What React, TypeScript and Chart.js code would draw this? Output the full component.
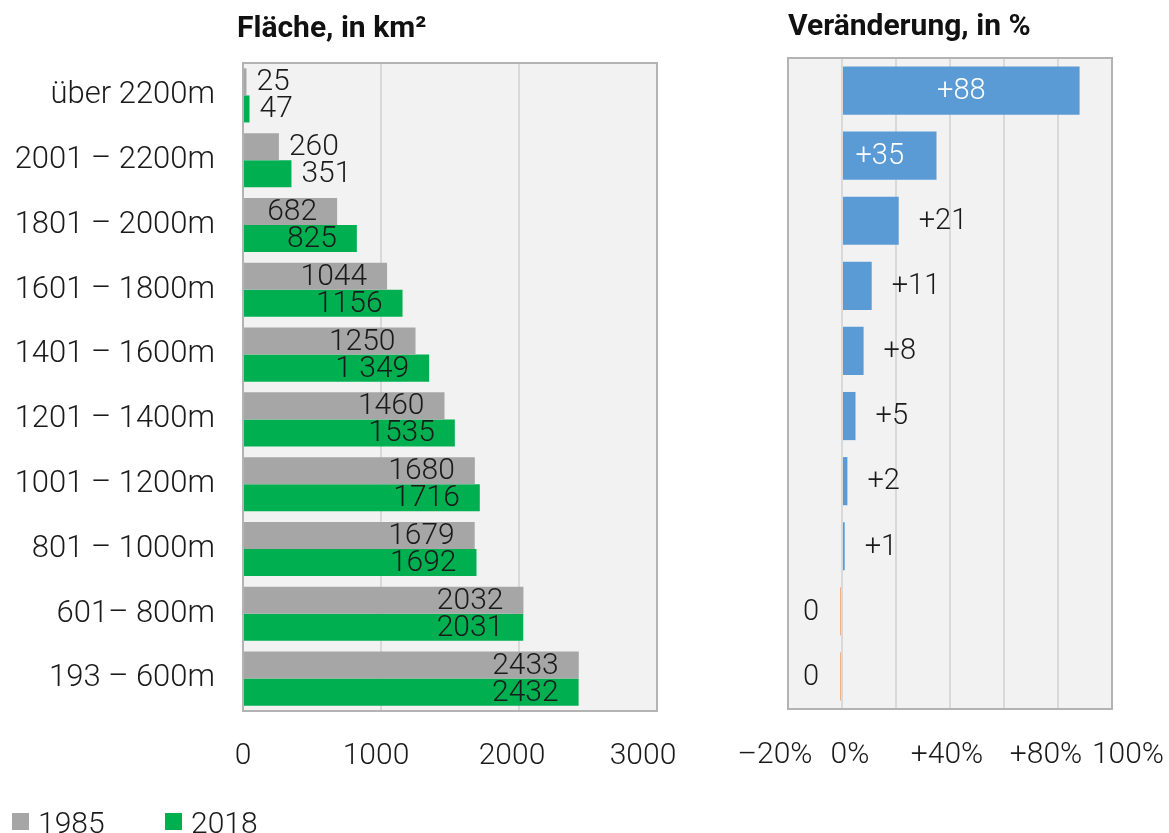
import React, { useEffect, useRef } from 'react';
import { Chart, registerables } from 'chart.js';

Chart.register(...registerables);

const FONT = 'Roboto, "Noto Sans", sans-serif';

// ---------- data ----------
const altitudeBands = [
  'über 2200m',
  '2001 – 2200m',
  '1801 – 2000m',
  '1601 – 1800m',
  '1401 – 1600m',
  '1201 – 1400m',
  '1001 – 1200m',
  '801 – 1000m',
  '601– 800m',
  '193 – 600m',
];
const area1985 = [25, 260, 682, 1044, 1250, 1460, 1680, 1679, 2032, 2433];
const area2018 = [47, 351, 825, 1156, 1349, 1535, 1716, 1692, 2031, 2432];
const area1985Labels = ['25', '260', '682', '1044', '1250', '1460', '1680', '1679', '2032', '2433'];
const area2018Labels = ['47', '351', '825', '1156', '1 349', '1535', '1716', '1692', '2031', '2432'];

const changePct = [88, 35, 21, 11, 8, 5, 2, 1, -0.05, -0.04];
const changeLabels = ['+88', '+35', '+21', '+11', '+8', '+5', '+2', '+1', '0', '0'];

const areaTickValues = [0, 1000, 2000, 3000];
const areaTickLabels = ['0', '1000', '2000', '3000'];
const changeTickValues = [-20, 0, 20, 40, 60, 80, 100];
const changeTickLabels = ['–20%', '0%', '', '+40%', '', '+80%', '100%'];

const seriesNames = ['1985', '2018'];
const COLOR_1985 = '#a6a6a6';
const COLOR_2018 = '#00b050';
const COLOR_POS = '#5b9bd5';
const COLOR_NEG = '#f4b183';

// label nudges (style only, px) mimicking the original's overlap-avoiding placement
const AREA_TICK_NUDGE = [0, -5, -7, -14];
const CHANGE_TICK_NUDGE = [-13, 8, 0, -3, 0, -12, 16];

// ---------- shared plugins ----------
const panelPlugin = (title: string, titleX: number, titleY: number) => ({
  id: 'panel',
  beforeDraw(chart: any) {
    const { ctx, chartArea: a } = chart;
    ctx.save();
    ctx.fillStyle = '#f2f2f2';
    ctx.fillRect(a.left, a.top, a.right - a.left, a.bottom - a.top);
    ctx.restore();
  },
  afterDatasetsDraw(chart: any) {
    const { ctx, chartArea: a } = chart;
    ctx.save();
    ctx.strokeStyle = '#b3b3b3';
    ctx.lineWidth = 2;
    ctx.strokeRect(a.left, a.top, a.right - a.left, a.bottom - a.top);
    ctx.fillStyle = '#111';
    ctx.font = `700 30px ${FONT}`;
    ctx.textAlign = 'left';
    ctx.textBaseline = 'alphabetic';
    ctx.fillText(title, titleX, titleY);
    ctx.restore();
  },
});

const tickLabelPlugin = (values: number[], labels: string[], nudge: number[], size: number, baseline: number) => ({
  id: 'tickLabels',
  afterDraw(chart: any) {
    const { ctx } = chart;
    const scale = chart.scales.x;
    ctx.save();
    ctx.font = `300 ${size}px ${FONT}`;
    ctx.fillStyle = '#1a1a1a';
    ctx.textAlign = 'center';
    ctx.textBaseline = 'alphabetic';
    values.forEach((v, i) => {
      if (!labels[i]) return;
      ctx.fillText(labels[i], scale.getPixelForValue(v) + nudge[i], baseline);
    });
    ctx.restore();
  },
});

const areaLabelsPlugin = {
  id: 'areaLabels',
  afterDraw(chart: any) {
    const ctx = chart.ctx;
    ctx.save();
    ctx.font = `300 30px ${FONT}`;
    ctx.fillStyle = '#1a1a1a';
    ctx.textBaseline = 'middle';
    chart.data.datasets.forEach((_ds: any, di: number) => {
      const meta = chart.getDatasetMeta(di);
      const texts = di === 0 ? area1985Labels : area2018Labels;
      meta.data.forEach((bar: any, i: number) => {
        const { x, y, base } = bar.getProps(['x', 'y', 'base'], true);
        const t = texts[i];
        const w = ctx.measureText(t).width;
        if (x - base > w + 30) {
          ctx.textAlign = 'right';
          ctx.fillText(t, x - 20, y + 1);
        } else {
          ctx.textAlign = 'left';
          ctx.fillText(t, x + 10, y + 1);
        }
      });
    });
    ctx.restore();
  },
};

const changeLabelsPlugin = {
  id: 'changeLabels',
  afterDraw(chart: any) {
    const ctx = chart.ctx;
    ctx.save();
    ctx.font = `300 29px ${FONT}`;
    ctx.textBaseline = 'middle';
    const meta = chart.getDatasetMeta(0);
    meta.data.forEach((bar: any, i: number) => {
      const { x, y, base } = bar.getProps(['x', 'y', 'base'], true);
      const v = changePct[i];
      const t = changeLabels[i];
      const w = ctx.measureText(t).width;
      if (v < 0) {
        ctx.fillStyle = '#1a1a1a';
        ctx.textAlign = 'right';
        ctx.fillText(t, base - 22, y + 1);
      } else if (x - base > w + 30) {
        ctx.fillStyle = '#ffffff';
        ctx.textAlign = 'center';
        ctx.fillText(t, (x + base) / 2 - (x - base < 150 ? 10 : 0), y + 1);
      } else {
        ctx.fillStyle = '#1a1a1a';
        ctx.textAlign = 'left';
        ctx.fillText(t, x + 20, y + 1);
      }
    });
    ctx.restore();
  },
};

const fixedX = (bottom: number) => (scale: any) => {
  scale.height = 833 - bottom;
  scale.paddingLeft = 0;
  scale.paddingRight = 0;
};

// ---------- configs ----------
function areaConfig(): any {
  return {
    type: 'bar',
    data: {
      labels: altitudeBands,
      datasets: [
        { label: seriesNames[0], data: area1985, backgroundColor: COLOR_1985, borderWidth: 0 },
        { label: seriesNames[1], data: area2018, backgroundColor: COLOR_2018, borderWidth: 0 },
      ],
    },
    options: {
      indexAxis: 'y',
      responsive: false,
      animation: false,
      layout: { padding: { top: 63, right: 43, left: 0, bottom: 0 } },
      datasets: { bar: { categoryPercentage: 0.835, barPercentage: 1 } },
      plugins: { legend: { display: false }, tooltip: { enabled: false }, title: { display: false } },
      scales: {
        x: {
          min: 0,
          max: 3000,
          afterBuildTicks(scale: any) {
            scale.ticks = areaTickValues.map((v) => ({ value: v }));
          },
          afterFit: fixedX(711),
          ticks: { display: false, autoSkip: false, maxRotation: 0 },
          grid: { color: '#d9d9d9', lineWidth: 2, drawTicks: false },
          border: { display: false },
        },
        y: {
          afterFit(scale: any) {
            scale.width = 243;
          },
          ticks: {
            autoSkip: false,
            padding: 28,
            color: '#1a1a1a',
            font: { family: FONT, size: 31, weight: '300' },
          },
          grid: { display: false, drawTicks: false },
          border: { display: false },
        },
      },
    },
    plugins: [
      panelPlugin('Fläche, in km²', 237, 37),
      areaLabelsPlugin,
      tickLabelPlugin(areaTickValues, areaTickLabels, AREA_TICK_NUDGE, 30, 764),
    ],
  };
}

function changeConfig(): any {
  return {
    type: 'bar',
    data: {
      labels: altitudeBands,
      datasets: [
        {
          label: 'Veränderung',
          data: changePct,
          backgroundColor: changePct.map((v) => (v < 0 ? COLOR_NEG : COLOR_POS)),
          borderWidth: 0,
          minBarLength: 2,
        },
      ],
    },
    options: {
      indexAxis: 'y',
      responsive: false,
      animation: false,
      layout: { padding: { top: 58, right: 57, left: 88, bottom: 0 } },
      datasets: { bar: { categoryPercentage: 1, barPercentage: 0.74 } },
      plugins: { legend: { display: false }, tooltip: { enabled: false }, title: { display: false } },
      scales: {
        x: {
          min: -20,
          max: 100,
          afterBuildTicks(scale: any) {
            scale.ticks = changeTickValues.map((v) => ({ value: v }));
          },
          afterFit: fixedX(709),
          ticks: { display: false, autoSkip: false, maxRotation: 0 },
          grid: { color: '#d9d9d9', lineWidth: 2, drawTicks: false },
          border: { display: false },
        },
        y: { display: false },
      },
    },
    plugins: [
      panelPlugin('Veränderung, in %', 88, 35),
      changeLabelsPlugin,
      tickLabelPlugin(changeTickValues, changeTickLabels, CHANGE_TICK_NUDGE, 30, 763),
    ],
  };
}

function ChartCanvas({ width, height, left, make }: { width: number; height: number; left: number; make: () => any }) {
  const ref = useRef<HTMLCanvasElement | null>(null);
  useEffect(() => {
    if (!ref.current) return;
    const chart = new Chart(ref.current, make());
    return () => chart.destroy();
  }, []);
  return (
    <canvas
      ref={ref}
      width={width}
      height={height}
      style={{ position: 'absolute', left, top: 0, width, height }}
    />
  );
}

export default function App() {
  const legendColors = [COLOR_1985, COLOR_2018];
  const legendLeft = [12, 165];
  return (
    <div
      style={{
        position: 'fixed',
        left: 0,
        top: 0,
        width: 1169,
        height: 833,
        background: '#ffffff',
        overflow: 'hidden',
      }}
    >
      <ChartCanvas width={700} height={833} left={0} make={areaConfig} />
      <ChartCanvas width={469} height={833} left={700} make={changeConfig} />
      {seriesNames.map((name, i) => (
        <div
          key={name}
          style={{
            position: 'absolute',
            left: legendLeft[i],
            top: 805,
            height: 36,
            display: 'flex',
            alignItems: 'center',
            fontFamily: FONT,
            fontWeight: 300,
            fontSize: 30,
            lineHeight: '36px',
            color: '#1a1a1a',
          }}
        >
          <span
            style={{
              display: 'inline-block',
              width: 17,
              height: 17,
              background: legendColors[i],
              marginRight: 9,
              marginTop: -3,
            }}
          />
          <span>{name}</span>
        </div>
      ))}
    </div>
  );
}
